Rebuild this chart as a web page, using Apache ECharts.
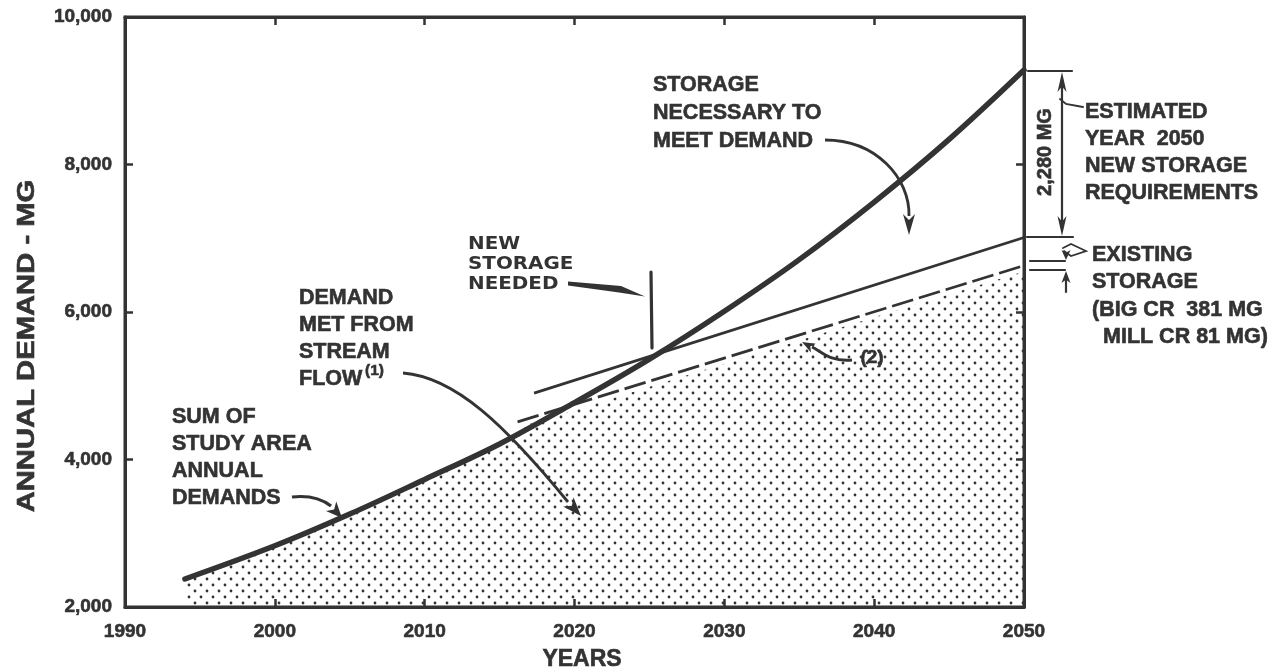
<!DOCTYPE html>
<html><head><meta charset="utf-8">
<script src="https://cdn.jsdelivr.net/npm/echarts@6/dist/echarts.min.js"></script>
<style>html,body{margin:0;padding:0;background:#fff}#c{width:1285px;height:672px}</style>
</head><body><div id="c"></div>
<script>
// ---- data ----
const demandYears  = [1994, 2000, 2005, 2010, 2015, 2020, 2025, 2030, 2035, 2040, 2045, 2050];
const demandValues = [2380, 2830, 3260, 3730, 4210, 4770, 5360, 6010, 6710, 7490, 8340, 9280];
const streamYears  = [2017, 2020, 2030, 2040, 2050];
const streamValues = [4480, 4670, 5300, 5930, 6550];
const millYears    = [2016.2, 2050];      // stream flow + Mill Cr storage (dashed, note 2)
const millValues   = [4510, 6630];
const totalYears   = [2017.3, 2050];      // stream flow + existing storage (Big Cr + Mill Cr)
const totalValues  = [4900, 7010];
const xTickLabels  = [1990, 2000, 2010, 2020, 2030, 2040, 2050];
const yTickLabels  = [2000, 4000, 6000, 8000, 10000];

const INK = '#333333';
const FONT = '"Liberation Sans", Arial, sans-serif';

const pairs = (xs, ys) => xs.map((x, i) => [x, ys[i]]);
const demandData = pairs(demandYears, demandValues);
const fillData = demandData.filter(p => p[0] <= 2015).concat(pairs(streamYears, streamValues));

// stipple pattern
const pc = document.createElement('canvas');
pc.width = 12; pc.height = 12;
const g = pc.getContext('2d');
g.fillStyle = INK;
[[3, 3], [9, 9]].forEach(([x, y]) => { g.beginPath(); g.arc(x, y, 1.4, 0, Math.PI * 2); g.fill(); });

const chart = echarts.init(document.getElementById('c'), null, { renderer: 'canvas' });

const axisCommon = {
  type: 'value',
  axisLine: { show: true, onZero: false, lineStyle: { color: INK, width: 3 } },
  axisTick: { show: true, inside: true, length: 8, lineStyle: { color: INK, width: 2.5 } },
  splitLine: { show: false }
};
const labelStyle = { color: INK, fontSize: 19, fontWeight: 'bold', fontFamily: FONT, textBorderColor: INK, textBorderWidth: 0.6 };

function txt(x, y, text, size, lh, extra) {
  return Object.assign({
    type: 'text', x: x, y: y, silent: true,
    style: Object.assign({
      text: text, fill: INK, fontSize: size, fontWeight: 'bold', fontFamily: FONT,
      lineHeight: lh, align: 'left', verticalAlign: 'top', stroke: INK, lineWidth: 0.6
    }, (extra && extra.style) || {})
  }, (extra && extra.el) || {});
}
function line(pts, w) {
  return { type: 'polyline', silent: true, shape: { points: pts }, style: { stroke: INK, lineWidth: w || 2, fill: null, lineCap: 'round' } };
}
function curve(x1, y1, c1x, c1y, c2x, c2y, x2, y2, w) {
  return { type: 'bezierCurve', silent: true, shape: { x1, y1, cpx1: c1x, cpy1: c1y, cpx2: c2x, cpy2: c2y, x2, y2 }, style: { stroke: INK, lineWidth: w || 2, fill: null } };
}
function head(tx, ty, fx, fy, len, hw) {
  const dx = tx - fx, dy = ty - fy, d = Math.hypot(dx, dy), ux = dx / d, uy = dy / d;
  const bx = tx - ux * len, by = ty - uy * len;
  return { type: 'polygon', silent: true, shape: { points: [[tx, ty], [bx - uy * hw, by + ux * hw], [tx - ux * len * 0.72, ty - uy * len * 0.72], [bx + uy * hw, by - ux * hw]] }, style: { fill: INK } };
}

const graphics = [
  // axis names
  txt(582, 660, 'YEARS', 23, 26, { style: { align: 'center', verticalAlign: 'middle' } }),
  txt(28, 346, 'ANNUAL DEMAND - MG', 23, 26, { style: { align: 'center', verticalAlign: 'middle' }, el: { rotation: Math.PI / 2, scaleX: 1.27 } }),

  // annotations
  txt(653, 71, 'STORAGE\nNECESSARY TO\nMEET DEMAND', 21.5, 28),
  txt(299, 284.5, 'DEMAND\nMET FROM\nSTREAM\nFLOW', 21.5, 27),
  txt(365, 371, '(1)', 15.5, 16, { style: { verticalAlign: 'middle' } }),
  txt(172, 403.5, 'SUM OF\nSTUDY AREA\nANNUAL\nDEMANDS', 21.5, 27),
  txt(468, 235, 'NEW\nSTORAGE\nNEEDED', 17, 20, { style: { fontFamily: '"DejaVu Sans", sans-serif', lineWidth: 0 }, el: { scaleX: 1.17 } }),
  txt(1085, 98.5, 'ESTIMATED\nYEAR  2050\nNEW STORAGE\nREQUIREMENTS', 21.5, 27),
  txt(1092, 241.4, 'EXISTING\nSTORAGE\n(BIG CR  381 MG', 21.5, 27.3),
  txt(1103, 337, 'MILL CR 81 MG)', 21.5, 27, { style: { verticalAlign: 'middle' } }),
  txt(1045, 152, '2,280 MG', 20, 22, { style: { align: 'center', verticalAlign: 'middle' }, el: { rotation: Math.PI / 2 } }),
  txt(872, 358, '(2)', 19, 20, { style: { align: 'center', verticalAlign: 'middle' } }),

  // "new storage needed" pointer + marker
  { type: 'polygon', silent: true, shape: { points: [[568, 281.5], [621, 286], [645, 296.5], [619, 292.5], [568, 285.5]] }, style: { fill: INK } },
  line([[651, 272], [652, 348]], 3.2),

  // flow arrow
  curve(403, 373, 455, 377, 505, 425, 568, 502, 2.8),
  head(581, 516, 563, 496, 19, 7),
  // demands arrow
  curve(292, 497, 310, 495, 322, 499, 331, 506, 3.2),
  head(342, 518, 329, 504, 16, 7),
  // storage necessary arrow
  curve(825, 140, 876, 140, 910, 178, 909, 216, 2.8),
  head(909, 235, 909, 214, 21, 6),
  // (2) arrow
  curve(852, 360, 830, 362, 822, 352, 812, 347, 2.8),
  head(802, 342, 815, 349, 13, 5),

  // right-hand dimension marks
  line([[1028, 71], [1072, 71]], 2.2),
  line([[1027, 237], [1073, 237]], 2.2),
  line([[1030, 261], [1065, 261]], 2.2),
  line([[1030, 270], [1065, 270]], 2.2),
  line([[1062, 80], [1062, 228]], 2.2),
  head(1062, 72, 1062, 92, 20, 4.5),
  head(1062, 236, 1062, 216, 20, 4.5),
  line([[1066, 292], [1066, 276]], 2.2),
  head(1066, 271, 1066, 283, 12, 4.5),
  head(1066, 260, 1066, 249, 10, 4.5),
  line([[1060, 99], [1066, 104], [1083, 107]], 1.8),
  line([[1063, 248], [1071, 244], [1086, 251], [1071, 256], [1064, 251]], 1.8)
];

chart.setOption({
  animation: false,
  backgroundColor: '#ffffff',
  grid: { left: 125, right: 261, top: 17, bottom: 65, show: true, borderColor: INK, borderWidth: 3, containLabel: false },
  xAxis: [
    Object.assign({}, axisCommon, {
      min: 1990, max: 2050, interval: 10, position: 'bottom',
      axisLabel: Object.assign({ show: true, margin: 15,
        formatter: v => xTickLabels.indexOf(v) >= 0 ? String(v) : '' }, labelStyle)
    }),
    Object.assign({}, axisCommon, { min: 1990, max: 2050, interval: 10, position: 'top', axisLabel: { show: false } })
  ],
  yAxis: [
    Object.assign({}, axisCommon, {
      min: 2000, max: 10000, interval: 2000, position: 'left',
      axisLabel: Object.assign({ show: true, margin: 13,
        formatter: v => yTickLabels.indexOf(v) >= 0 ? v.toLocaleString('en-US') : '' }, labelStyle)
    }),
    Object.assign({}, axisCommon, { min: 2000, max: 10000, interval: 2000, position: 'right', axisLabel: { show: false } })
  ],
  series: [
    { name: 'Demand met from stream flow', type: 'line', data: fillData, showSymbol: false, silent: true,
      lineStyle: { width: 0, opacity: 0 }, areaStyle: { origin: 'start', opacity: 1, color: { image: pc, repeat: 'repeat' } }, z: 1 },
    { name: 'Stream flow + Mill Cr', type: 'line', data: pairs(millYears, millValues), showSymbol: false, silent: true,
      lineStyle: { color: INK, width: 2.8, type: [22, 6] }, z: 3 },
    { name: 'Stream flow + existing storage', type: 'line', data: pairs(totalYears, totalValues), showSymbol: false, silent: true,
      lineStyle: { color: INK, width: 2.8 }, z: 3 },
    { name: 'Sum of study area annual demands', type: 'line', data: demandData, smooth: 0.35, showSymbol: false, silent: true,
      lineStyle: { color: INK, width: 5.5, cap: 'round' }, z: 4 }
  ],
  graphic: graphics
});
</script></body></html>
